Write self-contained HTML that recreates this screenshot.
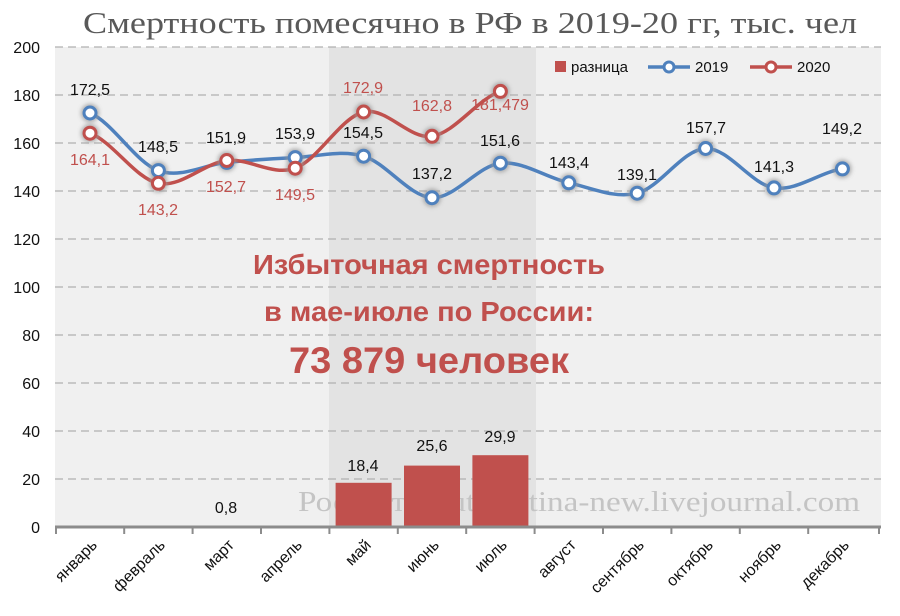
<!DOCTYPE html>
<html><head><meta charset="utf-8"><style>
body{margin:0;background:#fff}
svg{display:block}
</style></head><body>
<svg width="900" height="616" viewBox="0 0 900 616" xmlns="http://www.w3.org/2000/svg" font-family="Liberation Sans, sans-serif">
<defs>
<filter id="gl" x="-50%" y="-50%" width="200%" height="200%"><feGaussianBlur stdDeviation="2"/></filter>
</defs>
<text x="83" y="33" textLength="774" lengthAdjust="spacingAndGlyphs" font-family="Liberation Serif, serif" font-size="31" fill="#595959">Смертность помесячно в РФ в 2019-20 гг, тыс. чел</text>
<rect x="55" y="47" width="826" height="480" fill="#f0f0f0"/>
<rect x="329" y="47" width="207" height="480" fill="#e3e3e3"/>
<g stroke="#b0b0b0" stroke-width="1.2" stroke-dasharray="8,5">
<line x1="55" x2="881" y1="47" y2="47"/><line x1="55" x2="881" y1="95" y2="95"/>
<line x1="55" x2="881" y1="143" y2="143"/><line x1="55" x2="881" y1="191" y2="191"/>
<line x1="55" x2="881" y1="239" y2="239"/><line x1="55" x2="881" y1="287" y2="287"/>
<line x1="55" x2="881" y1="335" y2="335"/><line x1="55" x2="881" y1="383" y2="383"/>
<line x1="55" x2="881" y1="431" y2="431"/><line x1="55" x2="881" y1="479" y2="479"/>
</g>
<g font-size="16" fill="#111" text-anchor="end">
<text x="40" y="53">200</text><text x="40" y="101">180</text><text x="40" y="149">160</text>
<text x="40" y="197">140</text><text x="40" y="245">120</text><text x="40" y="293">100</text>
<text x="40" y="341">80</text><text x="40" y="389">60</text><text x="40" y="437">40</text>
<text x="40" y="485">20</text><text x="40" y="533">0</text>
</g>
<text x="298" y="511" textLength="562" lengthAdjust="spacingAndGlyphs" font-family="Liberation Serif, serif" font-size="28" fill="#c4c4c4">Росстат, sputnik-tina-new.livejournal.com</text>
<g fill="#c0504d">
<rect x="335.6" y="482.8" width="56" height="44.2"/>
<rect x="404" y="465.6" width="56" height="61.4"/>
<rect x="472.4" y="455.2" width="56" height="71.8"/>
</g>
<line x1="55" x2="881" y1="527" y2="527" stroke="#8c8c8c" stroke-width="3"/>
<g stroke="#8c8c8c" stroke-width="2">
<line x1="56" x2="56" y1="527" y2="534"/><line x1="124.2" x2="124.2" y1="527" y2="534"/><line x1="192.6" x2="192.6" y1="527" y2="534"/><line x1="261" x2="261" y1="527" y2="534"/><line x1="329.4" x2="329.4" y1="527" y2="534"/><line x1="397.8" x2="397.8" y1="527" y2="534"/><line x1="466.2" x2="466.2" y1="527" y2="534"/><line x1="534.6" x2="534.6" y1="527" y2="534"/><line x1="603" x2="603" y1="527" y2="534"/><line x1="671.4" x2="671.4" y1="527" y2="534"/><line x1="739.8" x2="739.8" y1="527" y2="534"/><line x1="808.2" x2="808.2" y1="527" y2="534"/><line x1="879" x2="879" y1="527" y2="534"/>
</g>
<g font-size="16" fill="#111" text-anchor="end">
<text transform="translate(98,546) rotate(-45)">январь</text>
<text transform="translate(166,546) rotate(-45)">февраль</text>
<text transform="translate(235,546) rotate(-45)">март</text>
<text transform="translate(303,546) rotate(-45)">апрель</text>
<text transform="translate(372,546) rotate(-45)">май</text>
<text transform="translate(440,546) rotate(-45)">июнь</text>
<text transform="translate(508,546) rotate(-45)">июль</text>
<text transform="translate(577,546) rotate(-45)">август</text>
<text transform="translate(645,546) rotate(-45)">сентябрь</text>
<text transform="translate(714,546) rotate(-45)">октябрь</text>
<text transform="translate(782,546) rotate(-45)">ноябрь</text>
<text transform="translate(850,546) rotate(-45)">декабрь</text>
</g>
<g font-size="28" font-weight="bold" fill="#c0504d">
<text x="253" y="274" textLength="352" lengthAdjust="spacingAndGlyphs">Избыточная смертность</text>
<text x="264" y="321" textLength="330" lengthAdjust="spacingAndGlyphs">в мае-июле по России:</text>
<text x="289" y="373" font-size="37" textLength="280" lengthAdjust="spacingAndGlyphs">73 879 человек</text>
</g>
<path d="M90,113 C112.8,122.6 135.6,162.4 158.4,170.6 C181.2,178.8 204,164.6 226.8,162.4 C249.6,160.2 272.4,158.6 295.2,157.6 C318,156.6 340.8,149.5 363.6,156.2 C386.4,162.9 409.2,196.5 432,197.7 C454.8,198.9 477.6,165.7 500.4,163.2 C523.2,160.7 546,177.8 568.8,182.8 C591.6,187.8 614.4,198.9 637.2,193.2 C660,187.5 682.8,149.4 705.6,148.5 C728.4,147.6 751.2,184.5 774,187.9 C796.8,191.3 819.6,172.1 842.4,168.9" fill="none" stroke="#4f81bd" stroke-width="3.5"/>
<path d="M90,133.2 C112.8,141.6 135.6,178.8 158.4,183.3 C181.2,187.9 204,163 226.8,160.5 C249.6,158 272.4,176.3 295.2,168.2 C318,160.1 340.8,117.3 363.6,112 C386.4,106.7 409.2,139.7 432,136.3 C454.8,132.9 477.6,98.9 500.4,91.4" fill="none" stroke="#c0504d" stroke-width="3.5"/>
<g fill="#999" filter="url(#gl)" opacity="0.8">
<circle cx="90" cy="113" r="9"/><circle cx="158.4" cy="170.6" r="9"/><circle cx="226.8" cy="162.4" r="9"/><circle cx="295.2" cy="157.6" r="9"/><circle cx="363.6" cy="156.2" r="9"/><circle cx="432" cy="197.7" r="9"/><circle cx="500.4" cy="163.2" r="9"/><circle cx="568.8" cy="182.8" r="9"/><circle cx="637.2" cy="193.2" r="9"/><circle cx="705.6" cy="148.5" r="9"/><circle cx="774" cy="187.9" r="9"/><circle cx="842.4" cy="168.9" r="9"/>
<circle cx="90" cy="133.2" r="9"/><circle cx="158.4" cy="183.3" r="9"/><circle cx="226.8" cy="160.5" r="9"/><circle cx="295.2" cy="168.2" r="9"/><circle cx="363.6" cy="112" r="9"/><circle cx="432" cy="136.3" r="9"/><circle cx="500.4" cy="91.4" r="9"/>
</g>
<g fill="#fff" stroke="#4f81bd" stroke-width="3">
<circle cx="90" cy="113" r="6"/><circle cx="158.4" cy="170.6" r="6"/><circle cx="226.8" cy="162.4" r="6"/><circle cx="295.2" cy="157.6" r="6"/><circle cx="363.6" cy="156.2" r="6"/><circle cx="432" cy="197.7" r="6"/><circle cx="500.4" cy="163.2" r="6"/><circle cx="568.8" cy="182.8" r="6"/><circle cx="637.2" cy="193.2" r="6"/><circle cx="705.6" cy="148.5" r="6"/><circle cx="774" cy="187.9" r="6"/><circle cx="842.4" cy="168.9" r="6"/>
</g>
<g fill="#fff" stroke="#c0504d" stroke-width="3">
<circle cx="90" cy="133.2" r="6"/><circle cx="158.4" cy="183.3" r="6"/><circle cx="226.8" cy="160.5" r="6"/><circle cx="295.2" cy="168.2" r="6"/><circle cx="363.6" cy="112" r="6"/><circle cx="432" cy="136.3" r="6"/><circle cx="500.4" cy="91.4" r="6"/>
</g>
<g font-size="16" fill="#111" text-anchor="middle">
<text x="90" y="95">172,5</text><text x="158" y="152">148,5</text><text x="226" y="143">151,9</text>
<text x="295" y="139">153,9</text><text x="363" y="138">154,5</text><text x="432" y="179">137,2</text>
<text x="500" y="146">151,6</text><text x="569" y="168">143,4</text><text x="637" y="180">139,1</text>
<text x="706" y="133">157,7</text><text x="774" y="172">141,3</text><text x="842" y="134">149,2</text>
<text x="363" y="471">18,4</text><text x="432" y="451">25,6</text><text x="500" y="442">29,9</text>
<text x="226" y="513">0,8</text>
</g>
<g font-size="16" fill="#c0504d" text-anchor="middle">
<text x="90" y="165">164,1</text><text x="158" y="215">143,2</text><text x="226" y="192">152,7</text>
<text x="295" y="200">149,5</text><text x="363" y="93">172,9</text><text x="432" y="111">162,8</text>
<text x="500" y="110">181,479</text>
</g>
<g font-size="15" fill="#111">
<rect x="555" y="61" width="11" height="11" fill="#c0504d"/>
<text x="571" y="72">разница</text>
<line x1="648" x2="690" y1="67" y2="67" stroke="#4f81bd" stroke-width="3.5"/>
<circle cx="669" cy="67" r="5" fill="#fff" stroke="#4f81bd" stroke-width="3"/>
<text x="695" y="72">2019</text>
<line x1="750" x2="792" y1="67" y2="67" stroke="#c0504d" stroke-width="3.5"/>
<circle cx="771" cy="67" r="5" fill="#fff" stroke="#c0504d" stroke-width="3"/>
<text x="797" y="72">2020</text>
</g>
</svg>
</body></html>
